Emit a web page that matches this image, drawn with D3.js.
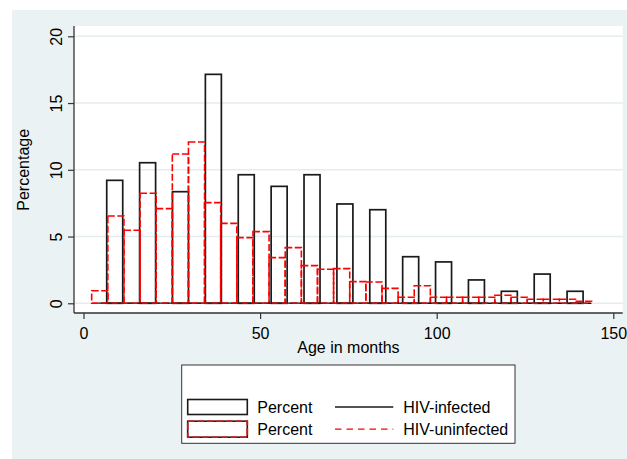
<!DOCTYPE html>
<html><head><meta charset="utf-8">
<script src="https://cdn.jsdelivr.net/npm/d3@7/dist/d3.min.js"></script>
<style>
body{margin:0;background:#fff}
text{font-family:"Liberation Sans",Arial,Helvetica,sans-serif;fill:#000}
</style>
</head><body>
<svg id="chart" width="627" height="459"></svg>
<script>
// ---- data ----
const infectedCenters = [8.84, 18.15, 27.46, 36.77, 46.08, 55.39, 64.70, 74.01, 83.32, 92.63, 101.94, 111.25, 120.56, 129.87, 139.18];
const infectedPercent = [9.21, 10.53, 8.36, 17.15, 9.63, 8.76, 9.63, 7.44, 7.01, 3.49, 3.10, 1.75, 0.90, 2.19, 0.90];
const infectedBarWidth = 4.53;

const uninfectedCenters = [4.60, 9.17, 13.73, 18.30, 22.87, 27.43, 32.00, 36.56, 41.13, 45.70, 50.26, 54.83, 59.40, 63.96, 68.53, 73.09, 77.66, 82.23, 86.79, 91.36, 95.92, 100.49, 105.06, 109.62, 114.19, 118.75, 123.32, 127.89, 132.45, 137.02, 141.58];
const uninfectedPercent = [0.94, 6.54, 5.47, 8.24, 7.09, 11.18, 12.08, 7.54, 5.99, 4.92, 5.37, 3.42, 4.17, 2.82, 2.55, 2.60, 1.62, 1.60, 1.12, 0.45, 1.32, 0.45, 0.45, 0.45, 0.45, 0.60, 0.45, 0.30, 0.30, 0.30, 0.15];
const uninfectedBarWidth = 4.566;

// kernel density (fraction per month) – lies on the baseline at this scale
const infectedDensX = [4.2, 20, 35, 50, 65, 80, 95, 110, 125, 143.8];
const infectedDensY = [0.008, 0.014, 0.017, 0.013, 0.012, 0.009, 0.005, 0.003, 0.002, 0.001];
const uninfectedDensX = [2.3, 15, 30, 45, 60, 75, 90, 105, 120, 143.9];
const uninfectedDensY = [0.010, 0.016, 0.021, 0.013, 0.009, 0.006, 0.003, 0.002, 0.001, 0.001];

const xTicks = [0, 50, 100, 150];
const yTicks = [0, 5, 10, 15, 20];
const xTitle = "Age in months";
const yTitle = "Percentage";
const legendBarLabels = ["Percent", "Percent"];
const legendLineLabels = ["HIV-infected", "HIV-uninfected"];

// ---- drawing ----
const svg = d3.select("#chart");
const RED = "#ff0000", BLK = "#1a1a1a", BG = "#eaf2f3";
const plot = {l: 74, t: 26, r: 622.7, b: 313};

const x = d3.scaleLinear().domain([0, 150]).range([83.5, 613.3]);
const y = d3.scaleLinear().domain([0, 20]).range([303.3, 36.3]);

svg.append("rect").attr("x", 0).attr("y", 0).attr("width", 627).attr("height", 459).attr("fill", "#fff");
svg.append("rect").attr("x", 12).attr("y", 10).attr("width", 615).attr("height", 449).attr("fill", BG);
svg.append("rect").attr("x", plot.l).attr("y", plot.t).attr("width", plot.r - plot.l).attr("height", plot.b - plot.t).attr("fill", "#fff");

// gridlines
svg.append("g").selectAll("line").data(yTicks).join("line")
  .attr("x1", plot.l).attr("x2", plot.r)
  .attr("y1", d => y(d)).attr("y2", d => y(d))
  .attr("stroke", "#e4ecee").attr("stroke-width", 1.5);

// infected bars
svg.append("g").selectAll("rect").data(infectedCenters).join("rect")
  .attr("x", (d) => x(d - infectedBarWidth / 2))
  .attr("width", x(infectedBarWidth) - x(0))
  .attr("y", (d, i) => y(infectedPercent[i]))
  .attr("height", (d, i) => y(0) - y(infectedPercent[i]))
  .attr("fill", "none").attr("stroke", BLK).attr("stroke-width", 1.7);

// uninfected bars
svg.append("g").selectAll("rect").data(uninfectedCenters).join("rect")
  .attr("x", (d) => x(d - uninfectedBarWidth / 2))
  .attr("width", x(uninfectedBarWidth) - x(0))
  .attr("y", (d, i) => y(uninfectedPercent[i]))
  .attr("height", (d, i) => y(0) - y(uninfectedPercent[i]))
  .attr("fill", "none").attr("stroke", RED).attr("stroke-width", 1.6)
  .attr("stroke-dasharray", "7,2.5");

// density lines
const line = d3.line().x(d => x(d[0])).y(d => y(d[1] * 100 / 100));
svg.append("path").datum(infectedDensX.map((v, i) => [v, infectedDensY[i]]))
  .attr("d", line).attr("fill", "none").attr("stroke", BLK).attr("stroke-width", 1.3);
svg.append("path").datum(uninfectedDensX.map((v, i) => [v, uninfectedDensY[i]]))
  .attr("d", line).attr("fill", "none").attr("stroke", RED).attr("stroke-width", 1.3)
  .attr("stroke-dasharray", "6,4");

// axes
const yAxis = svg.append("g").attr("transform", `translate(${plot.l},0)`)
  .call(d3.axisLeft(y).tickValues(yTicks).tickSize(6).tickSizeOuter(0).tickPadding(0));
yAxis.select(".domain").remove();
yAxis.selectAll(".tick line").attr("stroke", "#333").attr("stroke-width", 1.2);
yAxis.selectAll(".tick text")
  .attr("x", null).attr("dy", null)
  .attr("transform", "translate(-12.5,0) rotate(-90)")
  .attr("text-anchor", "middle")
  .style("font-size", "16px").style("font-family", '"Liberation Sans",Arial,sans-serif').attr("fill", "#000");

const xAxis = svg.append("g").attr("transform", `translate(0,${plot.b})`)
  .call(d3.axisBottom(x).tickValues(xTicks).tickSize(6).tickSizeOuter(0));
xAxis.select(".domain").remove();
xAxis.selectAll(".tick line").attr("stroke", "#333").attr("stroke-width", 1.2);
xAxis.selectAll(".tick text").attr("y", 25.5).attr("dy", null)
  .style("font-size", "16px").style("font-family", '"Liberation Sans",Arial,sans-serif').attr("fill", "#000");

svg.append("line").attr("x1", plot.l).attr("x2", plot.l).attr("y1", plot.t).attr("y2", plot.b)
  .attr("stroke", "#333").attr("stroke-width", 1.3);
svg.append("line").attr("x1", plot.l).attr("x2", plot.r).attr("y1", plot.b).attr("y2", plot.b)
  .attr("stroke", "#333").attr("stroke-width", 1.3);

// titles
svg.append("text").attr("x", 348.4).attr("y", 353.3).attr("text-anchor", "middle")
  .style("font-size", "16px").text(xTitle);
svg.append("text").attr("transform", "translate(28.8,169.8) rotate(-90)").attr("text-anchor", "middle")
  .style("font-size", "16px").text(yTitle);

// legend
const lg = svg.append("g");
lg.append("rect").attr("x", 181.7).attr("y", 365).attr("width", 333.3).attr("height", 78.3)
  .attr("fill", "#fff").attr("stroke", "#333").attr("stroke-width", 1);
const rowY = [407, 429.2];
// bar keys
lg.append("rect").attr("x", 187.7).attr("y", rowY[0] - 7.5).attr("width", 59.6).attr("height", 15)
  .attr("fill", "#fff").attr("stroke", BLK).attr("stroke-width", 1.6);
lg.append("rect").attr("x", 187.7).attr("y", rowY[1] - 8).attr("width", 59.6).attr("height", 16)
  .attr("fill", "#fff").attr("stroke", BLK).attr("stroke-width", 1.6);
lg.append("rect").attr("x", 187.7).attr("y", rowY[1] - 8).attr("width", 59.6).attr("height", 16)
  .attr("fill", "none").attr("stroke", RED).attr("stroke-width", 1.6).attr("stroke-dasharray", "7,2.5");
lg.selectAll("text.bl").data(legendBarLabels).join("text").attr("class", "bl")
  .attr("x", 257.3).attr("y", (d, i) => rowY[i] + 6).style("font-size", "16px").text(d => d);
// line keys
lg.append("line").attr("x1", 335).attr("x2", 393.3).attr("y1", rowY[0]).attr("y2", rowY[0])
  .attr("stroke", BLK).attr("stroke-width", 1.3);
lg.append("line").attr("x1", 335).attr("x2", 393.3).attr("y1", rowY[1]).attr("y2", rowY[1])
  .attr("stroke", RED).attr("stroke-width", 1.3).attr("stroke-dasharray", "6.5,5");
lg.selectAll("text.ll").data(legendLineLabels).join("text").attr("class", "ll")
  .attr("x", 403.3).attr("y", (d, i) => rowY[i] + 6).style("font-size", "16px").text(d => d);
</script>
</body></html>
